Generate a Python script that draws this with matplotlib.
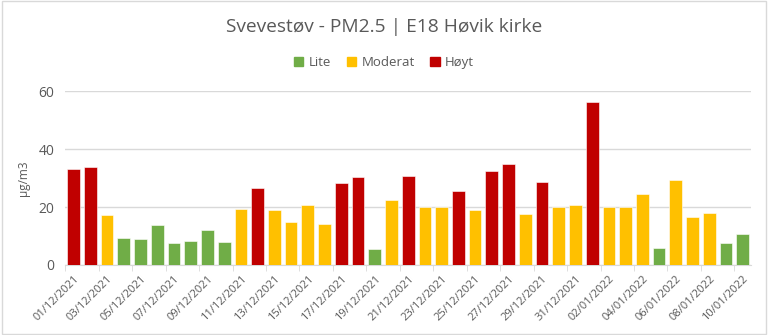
import matplotlib
matplotlib.use("Agg")
import matplotlib.pyplot as plt
from matplotlib.patches import Patch
import numpy as np
import pandas as pd

# data
dates = pd.date_range("2021-12-01", "2022-01-10", freq="D")
pm25 = [33.0, 33.7, 17.1, 9.3, 9.0, 13.7, 7.6, 8.2, 12.0, 7.8,
        19.2, 26.4, 19.0, 14.8, 20.7, 14.3, 28.2, 30.3, 5.4, 22.5,
        30.8, 19.9, 19.9, 25.5, 18.9, 32.6, 34.9, 17.7, 28.6, 20.1,
        20.7, 56.4, 20.0, 20.0, 24.5, 6.0, 29.5, 16.4, 17.8, 7.5, 10.7]
levels = ["H", "H", "M", "L", "L", "L", "L", "L", "L", "L",
          "M", "H", "M", "M", "M", "M", "H", "H", "L", "M",
          "H", "M", "M", "H", "M", "H", "H", "M", "H", "M",
          "M", "H", "M", "M", "M", "L", "M", "M", "M", "L", "L"]
level_names = {"L": "Lite", "M": "Moderat", "H": "Høyt"}
level_colors = {"L": "#70AD47", "M": "#FFC000", "H": "#C00000"}

plt.rcParams['font.family'] = ['Open Sans', 'DejaVu Sans']
text_col = "#595959"
grid_col = "#D9D9D9"

fig = plt.figure(figsize=(7.68, 3.35), dpi=100)
ax = fig.add_axes([0.085, 0.209, 0.893, 0.519])

x = np.arange(len(pm25))
ax.bar(x, pm25, width=0.76, color=[level_colors[l] for l in levels],
       edgecolor="white", linewidth=0.4, zorder=3)

ax.set_xlim(-0.5, len(pm25) - 0.5)
ax.set_ylim(0, 60)
ax.set_yticks([0, 20, 40, 60])
ax.yaxis.grid(True, color=grid_col, linewidth=1, zorder=0)
ax.tick_params(axis="y", length=0, labelsize=10, colors=text_col, pad=8)

ax.set_xticks(x[::2])
ax.set_xticklabels([d.strftime("%d/%m/%Y") for d in dates[::2]],
                   rotation=45, ha="right", rotation_mode="anchor",
                   fontsize=8, color=text_col)
ax.set_xticks(np.arange(-0.5, len(pm25), 2), minor=True)
ax.tick_params(axis="x", which="major", length=0, pad=6)
ax.tick_params(axis="x", which="minor", length=4, color=grid_col)

for s in ["top", "right", "left"]:
    ax.spines[s].set_visible(False)
ax.spines["bottom"].set_color(grid_col)

ax.set_ylabel("µg/m3", fontsize=8.5, color=text_col, labelpad=6)

fig.text(0.5, 0.92, "Svevestøv - PM2.5 | E18 Høvik kirke", ha="center",
         va="center", fontsize=13.8, color=text_col)

handles = [Patch(color=level_colors[k], label=level_names[k]) for k in ["L", "M", "H"]]
fig.legend(handles=handles, loc="center", bbox_to_anchor=(0.5, 0.812), ncol=3,
           frameon=False, fontsize=9.5, labelcolor=text_col, handlelength=0.7,
           handleheight=0.7, handletextpad=0.4, columnspacing=1.2)

fig.patches.append(plt.Rectangle((0.002, 0.003), 0.996, 0.994, transform=fig.transFigure,
                                 fill=False, edgecolor=grid_col, linewidth=1))

fig.savefig("out.png", dpi=100)
